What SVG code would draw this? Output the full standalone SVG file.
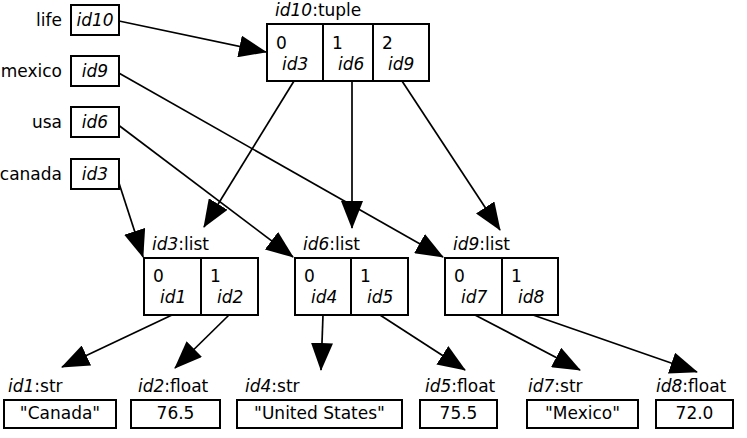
<svg xmlns="http://www.w3.org/2000/svg" width="747" height="438" viewBox="0 0 747 438">
<style>
text{font-family:"DejaVu Sans","Liberation Sans",sans-serif;font-size:17px;fill:#000}
.it{font-style:italic}
.e{text-anchor:end}
.m{text-anchor:middle}
rect{fill:#fff;stroke:#000;stroke-width:2}
.div{stroke:#000;stroke-width:2}
.edge{stroke:#000;stroke-width:1.7;fill:none;marker-end:url(#ah)}
</style>
<defs>
<marker id="ah" viewBox="0 0 28 22" refX="27" refY="11" markerWidth="28" markerHeight="22" markerUnits="userSpaceOnUse" orient="auto">
<path d="M0,0 L28,11 L0,22 z" fill="#000"/>
</marker>
</defs>
<rect x="0" y="0" width="747" height="438" style="stroke:none;fill:#fff"/>

<g id="connectors">
<line class="edge" x1="119" y1="21" x2="266" y2="52"/>
<line class="edge" x1="117" y1="72" x2="443" y2="257"/>
<line class="edge" x1="117" y1="124" x2="293" y2="257"/>
<line class="edge" x1="117" y1="177" x2="143" y2="257"/>
<line class="edge" x1="294" y1="81" x2="204" y2="227"/>
<line class="edge" x1="352" y1="81" x2="352" y2="228"/>
<line class="edge" x1="402" y1="81" x2="500" y2="230"/>
<line class="edge" x1="172" y1="315" x2="62" y2="367"/>
<line class="edge" x1="229" y1="315" x2="175" y2="368"/>
<line class="edge" x1="323" y1="315" x2="321" y2="370"/>
<line class="edge" x1="380" y1="315" x2="465" y2="370"/>
<line class="edge" x1="475" y1="315" x2="580" y2="370"/>
<line class="edge" x1="533" y1="315" x2="697" y2="372"/>
</g>

<g id="var_life">
<text class="e" x="62" y="26">life</text>
<rect x="71" y="5" width="48" height="30"/>
<text class="it m" x="95" y="26">id10</text>
</g>
<g id="var_mexico">
<text class="e" x="62" y="77">mexico</text>
<rect x="71" y="56" width="48" height="30"/>
<text class="it m" x="95" y="77">id9</text>
</g>
<g id="var_usa">
<text class="e" x="62" y="128">usa</text>
<rect x="71" y="107" width="48" height="30"/>
<text class="it m" x="95" y="128">id6</text>
</g>
<g id="var_canada">
<text class="e" x="62" y="180">canada</text>
<rect x="71" y="159" width="48" height="30"/>
<text class="it m" x="95" y="180">id3</text>
</g>

<g id="id10">
<text x="275" y="16"><tspan class="it">id10</tspan>:tuple</text>
<rect x="267" y="24" width="162" height="57"/>
<line class="div" x1="323" y1="24" x2="323" y2="81"/>
<line class="div" x1="373" y1="24" x2="373" y2="81"/>
<text x="276" y="49">0</text><text class="it" x="282" y="70">id3</text>
<text x="332" y="49">1</text><text class="it" x="338" y="70">id6</text>
<text x="382" y="49">2</text><text class="it" x="388" y="70">id9</text>
</g>

<g id="id3">
<text x="152" y="250"><tspan class="it">id3</tspan>:list</text>
<rect x="144" y="258" width="114" height="57"/>
<line class="div" x1="201" y1="258" x2="201" y2="315"/>
<text x="153" y="282">0</text><text class="it" x="160" y="303">id1</text>
<text x="210" y="282">1</text><text class="it" x="217" y="303">id2</text>
</g>
<g id="id6">
<text x="303" y="250"><tspan class="it">id6</tspan>:list</text>
<rect x="295" y="258" width="113" height="57"/>
<line class="div" x1="351" y1="258" x2="351" y2="315"/>
<text x="304" y="282">0</text><text class="it" x="311" y="303">id4</text>
<text x="360" y="282">1</text><text class="it" x="367" y="303">id5</text>
</g>
<g id="id9">
<text x="453" y="250"><tspan class="it">id9</tspan>:list</text>
<rect x="445" y="258" width="113" height="57"/>
<line class="div" x1="502" y1="258" x2="502" y2="315"/>
<text x="454" y="282">0</text><text class="it" x="461" y="303">id7</text>
<text x="511" y="282">1</text><text class="it" x="518" y="303">id8</text>
</g>

<g id="id1">
<text x="8" y="392"><tspan class="it">id1</tspan>:str</text>
<rect x="4" y="400" width="112" height="28"/>
<text class="m" x="60" y="419">"Canada"</text>
</g>
<g id="id2">
<text x="138" y="392"><tspan class="it">id2</tspan>:float</text>
<rect x="131" y="400" width="89" height="28"/>
<text class="m" x="175.5" y="419">76.5</text>
</g>
<g id="id4">
<text x="245" y="392"><tspan class="it">id4</tspan>:str</text>
<rect x="237" y="400" width="165" height="28"/>
<text class="m" x="319.5" y="419">"United States"</text>
</g>
<g id="id5">
<text x="425" y="392"><tspan class="it">id5</tspan>:float</text>
<rect x="420" y="400" width="77" height="28"/>
<text class="m" x="458.5" y="419">75.5</text>
</g>
<g id="id7">
<text x="528" y="392"><tspan class="it">id7</tspan>:str</text>
<rect x="527" y="400" width="111" height="28"/>
<text class="m" x="582.5" y="419">"Mexico"</text>
</g>
<g id="id8">
<text x="656" y="392"><tspan class="it">id8</tspan>:float</text>
<rect x="656" y="400" width="77" height="28"/>
<text class="m" x="694.5" y="419">72.0</text>
</g>
</svg>
